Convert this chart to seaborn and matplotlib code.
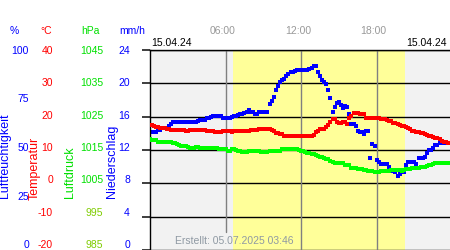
import numpy as np
import pandas as pd
import matplotlib
matplotlib.use("Agg")
import matplotlib.pyplot as plt
import matplotlib.transforms as mtrans
import seaborn as sns

# ---------------- data (10-minute readings, 15.04.24) ----------------
humidity = [
    58.8, 58.8, 58.8, 58.8, 60.2, 60.2, 61, 61, 61, 62, 63, 64,
    64, 64, 64, 64, 64, 64, 64, 64, 64, 64, 64, 64.5,
    65.2, 65.2, 65.2, 66, 66.2, 66.5, 66.8, 66.8, 66.8, 66.8, 66.8, 66.2,
    66, 66, 66, 66.5, 66.8, 66.8, 67.5, 67.8, 68, 68.5, 69, 69.8,
    68.8, 68.8, 68.2, 67.8, 68.8, 68.8, 68.8, 68.8, 68.8, 72.8, 74.7, 76.7,
    80, 82.2, 84, 84.8, 85.7, 86.8, 87.8, 88.8, 89, 89.3, 89.8, 90,
    90, 90, 90, 90, 90.5, 91, 92, 92, 89, 87, 84.8, 84,
    82.8, 80, 75.8, 69.2, 71.3, 73.3, 74.2, 72.5, 70.8, 72, 71.5, 68,
    63, 62.8, 62, 59.5, 58.8, 58.8, 58, 59.5, 59.5, 45.8, 53, 52,
    45, 44.2, 43, 43, 43, 43, 41.7, 39.7, 39.7, 38.8, 37, 38,
    39.2, 39.2, 42.5, 43.8, 43.8, 43.8, 43.8, 43, 45.8, 45.8, 45.8, 46.5,
    48.7, 50, 50, 51.2, 52.5, 52.5, 53.3, 53.3, 53.3, 53.3, 53.3, 53.3,
]
temperature = [
    17.5, 17.5, 17.3, 17, 16.8, 16.7, 16.5, 16.5, 16.2, 16.2, 16, 16,
    16, 16, 16, 16, 15.9, 15.6, 15.6, 16, 16, 16, 16, 16,
    16, 16, 16, 15.7, 15.7, 15.7, 15.6, 15.3, 15.3, 15.3, 15.3, 15.6,
    15.6, 15.6, 15.6, 15.3, 15.6, 15.6, 15.6, 15.6, 15.6, 15.7, 15.7, 15.7,
    16, 16, 16, 16.1, 16.3, 16.3, 16.3, 16.3, 16.3, 16.3, 16, 15.7,
    15, 15, 14.7, 14.7, 14.3, 14.3, 14.2, 14.1, 14.1, 14.2, 14.3, 14.3,
    14.3, 14.3, 14.3, 14.3, 14.3, 14.3, 14.6, 15.3, 15.8, 16.2, 16.2, 16.3,
    17, 17.5, 18.5, 19.2, 19.3, 18.3, 18, 18, 18.5, 18.3, 17.8, 19.7,
    20.3, 21.2, 21.2, 21.2, 20.8, 20.8, 20.7, 19.6, 19.6, 19.6, 19.6, 19.6,
    19.6, 19.6, 19.4, 19.3, 19.2, 19, 18.8, 18.7, 18.2, 18, 17.8, 17.5,
    17.3, 17.1, 16.9, 16.5, 16.3, 15.8, 15.6, 15.5, 15.3, 15.2, 15, 14.8,
    14.6, 14.3, 14.1, 13.8, 13.6, 13.5, 13.3, 12.6, 12.4, 12.3, 12.2, 12.2,
]
pressure = [
    1018.3, 1018, 1018, 1018, 1017.5, 1017.5, 1017.5, 1017.5, 1017.5, 1017.5, 1017.3, 1017,
    1017, 1016.7, 1016.5, 1016.3, 1016.3, 1016.3, 1015.8, 1015.7, 1015.7, 1015.7, 1015.8, 1016,
    1015.7, 1015.7, 1015.7, 1015.7, 1015.7, 1015.7, 1015.7, 1015.7, 1015.6, 1015.2, 1015.2, 1015.2,
    1015.2, 1014.8, 1014.8, 1015.2, 1015.2, 1015.1, 1014.8, 1014.8, 1014.5, 1014.5, 1014.5, 1014.7,
    1014.7, 1014.7, 1014.7, 1014.7, 1014.6, 1014.3, 1014.3, 1014.3, 1014.4, 1014.7, 1014.7, 1014.7,
    1014.7, 1014.7, 1014.8, 1015.2, 1015.2, 1015.2, 1015.2, 1015.2, 1015.2, 1015.2, 1015.2, 1015,
    1014.8, 1014.7, 1014.3, 1014.2, 1014.2, 1013.8, 1013.7, 1013.5, 1013.3, 1013, 1012.8, 1012.7,
    1012.3, 1012.2, 1011.7, 1011.3, 1011.2, 1011.2, 1011.1, 1011, 1011, 1010.6, 1010.5, 1010.5,
    1009.7, 1009.6, 1009.5, 1009.3, 1009.2, 1009.2, 1009.1, 1009, 1008.8, 1008.8, 1008.7, 1008.5,
    1008.5, 1008.5, 1008.7, 1008.8, 1008.8, 1008.8, 1008.8, 1009, 1009, 1009, 1009, 1009,
    1008.8, 1008.9, 1009.2, 1009.3, 1009.3, 1009.5, 1009.6, 1009.7, 1009.7, 1009.8, 1010, 1010,
    1010.2, 1010.5, 1010.5, 1010.8, 1011, 1011, 1011, 1011, 1011.1, 1011.2, 1011.2, 1011.2,
]
hours = np.arange(len(humidity)) / 6.0   # 10-minute time stamps

daylight = (6.62, 20.27)          # sunrise / sunset in hours
time_ticks = [6, 12, 18]
time_labels = ["06:00", "12:00", "18:00"]

hum_ticks = [0, 25, 50, 75, 100]
temp_ticks = [-20, -10, 0, 10, 20, 30, 40]
pres_ticks = [985, 995, 1005, 1015, 1025, 1035, 1045]
rain_ticks = [0, 4, 8, 12, 16, 20, 24]

date_label = "15.04.24"
created_label = "Erstellt: 05.07.2025 03:46"

df = pd.DataFrame({"hour": hours, "humidity": humidity,
                   "temperature": temperature, "pressure": pressure})

# ---------------- styling ----------------
sns.set_theme(style="white")
plt.rcParams["font.family"] = ["Liberation Sans", "DejaVu Sans"]

BLUE = "#0000ff"
RED = "#ff0000"
GREEN = "#00e000"
GREEN_LINE = "#00ff00"
FS = 7.5
MS = 9
RFS = 9

fig = plt.figure(figsize=(4.5, 2.5), dpi=100)
fig.patch.set_facecolor("white")

L, W = 150 / 450, 300 / 450
ax = fig.add_axes([L, 0, W, 200 / 250])
ax.set_facecolor("#f2f2f2")
ax.set_xlim(0, 23.83)
ax.set_ylim(0, 100)
ax.axvspan(daylight[0], daylight[1], color="#ffff99", lw=0, zorder=0)
ax.set_yticks(np.linspace(0, 100, 7))
ax.set_axisbelow(True)
ax.grid(axis="y", color="black", lw=1)
ax.grid(axis="x", visible=False)
for h in time_ticks:
    ax.axvline(h, color="#808080", lw=1, zorder=0.8,
               ymin=0.09 if h == 6 else 0)
ax.tick_params(left=False, bottom=False, labelleft=False, labelbottom=False)
for s in ["right", "bottom"]:
    ax.spines[s].set_visible(False)
for s in ["left", "top"]:
    ax.spines[s].set_color("black")
    ax.spines[s].set_linewidth(1)

sns.scatterplot(data=df, x="hour", y="humidity", ax=ax, marker="s", s=MS,
                color=BLUE, linewidth=0, legend=False)
ax.set_xlabel("")
ax.set_ylabel("")

ax_p = ax.twinx()
ax_p.set_ylim(985, 1045)
sns.scatterplot(data=df, x="hour", y="pressure", ax=ax_p, marker="s", s=MS,
                color=GREEN_LINE, linewidth=0, legend=False)
ax_p.set_axis_off()

ax_t = ax.twinx()
ax_t.set_ylim(-20, 40)
sns.scatterplot(data=df, x="hour", y="temperature", ax=ax_t, marker="s", s=MS,
                color=RED, linewidth=0, legend=False)
ax_t.set_axis_off()
ax.set_xlim(0, 23.83)

# ---------------- left-hand scales ----------------
def scale_axis(ticks, lo, hi, color, pad_px, colors=None):
    la = fig.add_axes([L, 6 / 250, 0.0001, 194 / 250])
    la.set_ylim(lo, hi)
    la.set_yticks(ticks, [str(t) for t in ticks])
    la.set_xticks([])
    la.tick_params(axis="y", length=0, pad=pad_px * 0.72,
                   labelcolor=color, labelsize=FS)
    for s in la.spines.values():
        s.set_visible(False)
    la.patch.set_visible(False)
    if colors:
        for lab, c in zip(la.get_yticklabels(), colors):
            lab.set_color(c)
    return la

scale_axis(hum_ticks, 0, 100, BLUE, 121)
scale_axis(temp_ticks, -20, 40, RED, 97)
scale_axis(pres_ticks, 985, 1045, GREEN, 47,
           colors=["#7fcc00", "#7fcc00"] + [GREEN] * 5)
scale_axis(rain_ticks, 0, 24, BLUE, 20)

def ftxt(x, y, s, **kw):
    kw.setdefault("fontsize", FS)
    fig.text(x / 450, 1 - y / 250, s, **kw)

ftxt(14, 30.5, "%", color=BLUE, ha="center", va="center")
ftxt(46.5, 30.5, "°C", color=RED, ha="center", va="center")
ftxt(90, 30.5, "hPa", color=GREEN, ha="center", va="center")
ftxt(132.5, 30.5, "mm/h", color=BLUE, ha="center", va="center")

ftxt(5.5, 198, "Luftfeuchtigkeit", color=BLUE, rotation=90,
     ha="center", va="bottom", fontsize=RFS)
ftxt(35, 200, "Temperatur", color=RED, rotation=90,
     ha="center", va="bottom", fontsize=RFS)
ftxt(70, 198, "Luftdruck", color=GREEN, rotation=90,
     ha="center", va="bottom", fontsize=RFS)
ftxt(112, 198, "Niederschlag", color=BLUE, rotation=90,
     ha="center", va="bottom", fontsize=RFS)

ftxt(151, 43.5, date_label, color="black", ha="left", va="center")
ftxt(447, 43.5, date_label, color="black", ha="right", va="center")

trans = mtrans.blended_transform_factory(ax.transData, fig.transFigure)
for h, lab in zip(time_ticks, time_labels):
    ax.text(h - 0.25, 1 - 30.5 / 250, lab, transform=trans, ha="center",
            va="center", color="#999999", fontsize=FS)

ftxt(175, 241, created_label, color="#8f99a3", ha="left", va="center")

fig.savefig("out.png", dpi=100)
